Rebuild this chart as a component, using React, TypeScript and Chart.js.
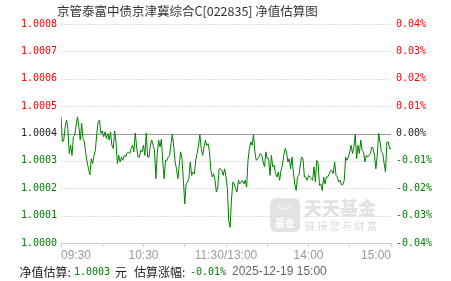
import React, { useEffect, useRef } from "react";
import { Chart, registerables } from "chart.js";

Chart.register(...registerables);

const TITLE = "京管泰富中债京津冀综合C[022835] 净值估算图";
const BASE_NAV = 1.0004;
const NAV_TICKS = [1.0, 1.0001, 1.0002, 1.0003, 1.0004, 1.0005, 1.0006, 1.0007, 1.0008];
const PCT_TICKS = ["-0.04%", "-0.03%", "-0.02%", "-0.01%", "0.00%", "0.01%", "0.02%", "0.03%", "0.04%"];
const TIME_TICK_POS = [0, 30, 60, 90, 120, 150, 180, 210, 240];
const TIME_TICK_LABELS = ["09:30", "", "10:30", "", "11:30/13:00", "", "14:00", "", "15:00"];

// 09:30 - 11:30 (one value per minute)
const MORNING_NAV = [
  1.000461, 1.000369, 1.000376, 1.000424, 1.000449, 1.000418, 1.000327, 1.000357, 1.00032, 1.000388,
  1.000394, 1.000431, 1.000461, 1.000424, 1.000376, 1.000437, 1.000382, 1.000369, 1.000327, 1.000296,
  1.000271, 1.000249, 1.000308, 1.00029, 1.00032, 1.000339, 1.0004, 1.000443, 1.000449, 1.0004,
  1.000409, 1.000388, 1.000406, 1.000382, 1.0004, 1.000376, 1.000406, 1.000357, 1.000345, 1.000409,
  1.000369, 1.00029, 1.00032, 1.000296, 1.000314, 1.000302, 1.00032, 1.000314, 1.000327, 1.000333,
  1.000327, 1.000345, 1.000357, 1.000333, 1.000402, 1.000351, 1.000314, 1.000314, 1.000339, 1.000333,
  1.000357, 1.00032, 1.000402, 1.000314, 1.000314, 1.000357, 1.000376, 1.000357, 1.000339, 1.000235,
  1.000327, 1.000376, 1.000351, 1.000379, 1.000296, 1.000235, 1.000302, 1.000302, 1.000314, 1.00032,
  1.000363, 1.000398, 1.000351, 1.000296, 1.000271, 1.000235, 1.000284, 1.000333, 1.000308, 1.000229,
  1.000143, 1.000216, 1.000223, 1.000235, 1.000296, 1.000247, 1.000259, 1.000253, 1.000302, 1.000327,
  1.000357, 1.000396, 1.000345, 1.00032, 1.000351, 1.000376, 1.000357, 1.000363, 1.000333, 1.000265,
  1.000241, 1.000253, 1.000229, 1.000186, 1.000204, 1.000271, 1.000271, 1.000265, 1.000247, 1.000271,
  1.000241,
];

// 13:01 - 15:00 (one value per minute)
const AFTERNOON_NAV = [
  1.000198, 1.000082, 1.000057, 1.000161, 1.000223, 1.000216, 1.000198, 1.000186, 1.000229, 1.000216,
  1.000223, 1.000229, 1.000216, 1.000229, 1.000204, 1.000302, 1.000345, 1.000369, 1.000357, 1.000396,
  1.000333, 1.000302, 1.000308, 1.000314, 1.000327, 1.00032, 1.000296, 1.000278, 1.000333, 1.000308,
  1.000308, 1.000247, 1.00032, 1.000278, 1.000284, 1.000253, 1.000241, 1.000259, 1.000229, 1.000265,
  1.000284, 1.00032, 1.000345, 1.000333, 1.000296, 1.000308, 1.000271, 1.000314, 1.000259, 1.000216,
  1.000192, 1.000241, 1.000247, 1.000284, 1.000314, 1.000308, 1.000241, 1.000241, 1.000229, 1.000247,
  1.000241, 1.000235, 1.000229, 1.000278, 1.000223, 1.000302, 1.00029, 1.00021, 1.000216, 1.000192,
  1.000241, 1.000216, 1.000241, 1.000241, 1.000253, 1.000265, 1.000265, 1.000253, 1.000296, 1.000247,
  1.000241, 1.000223, 1.000229, 1.000213, 1.000213, 1.000229, 1.000314, 1.000302, 1.000314, 1.000333,
  1.000357, 1.000327, 1.000351, 1.000396, 1.000308, 1.000357, 1.000327, 1.000376, 1.000339, 1.000333,
  1.000296, 1.00032, 1.000314, 1.00032, 1.000327, 1.000351, 1.000345, 1.00032, 1.000271, 1.00032,
  1.0004, 1.000369, 1.000333, 1.000327, 1.00029, 1.000259, 1.000369, 1.000369, 1.000345, 1.000345,
];

const EST_NAV_TEXT = "1.0003";
const EST_CHANGE_TEXT = "-0.01%";
const EST_TIME_TEXT = "2025-12-19 15:00";

const GREEN = "#008000";
const RED = "#ff0000";

function tickColor(v: number): string {
  if (v > BASE_NAV + 1e-9) return RED;
  if (v < BASE_NAV - 1e-9) return GREEN;
  return "#222";
}

const gridPlugin = {
  id: "navGrid",
  beforeDatasetsDraw(chart: any) {
    const ctx = chart.ctx;
    const y = chart.scales.y;
    const { left, right } = chart.chartArea;
    ctx.save();
    ctx.lineWidth = 1;
    NAV_TICKS.forEach((v) => {
      if (v === NAV_TICKS[0]) return;
      const py = Math.round(y.getPixelForValue(v)) + 0.5;
      if (Math.abs(v - BASE_NAV) < 1e-9) {
        ctx.setLineDash([]);
        ctx.strokeStyle = "#9a9a9a";
      } else {
        ctx.setLineDash([2, 1]);
        ctx.strokeStyle = "#e0e0e0";
      }
      ctx.beginPath();
      ctx.moveTo(left, py);
      ctx.lineTo(right, py);
      ctx.stroke();
    });
    ctx.restore();

    // watermark
    ctx.save();
    ctx.fillStyle = "#e3e3e3";
    ctx.beginPath();
    (ctx as any).roundRect(270, 198, 30, 34, 6);
    ctx.fill();
    ctx.strokeStyle = "#f2f2f2";
    ctx.lineWidth = 2;
    ctx.beginPath();
    ctx.arc(285, 201, 8, 0.15 * Math.PI, 0.85 * Math.PI);
    ctx.stroke();
    ctx.fillStyle = "#ffffff";
    ctx.font = 'bold 10px "Noto Sans CJK SC"';
    ctx.textAlign = "center";
    ctx.textBaseline = "middle";
    ctx.fillText("基金", 285, 223);
    ctx.textAlign = "left";
    ctx.textBaseline = "alphabetic";
    ctx.fillStyle = "#e2e2e2";
    ctx.font = '900 18px "Noto Sans CJK SC"';
    ctx.fillText("天天基金", 304, 215);
    ctx.fillStyle = "#dadada";
    ctx.font = '10px "Noto Sans CJK SC"';
    (ctx as any).letterSpacing = "2.4px";
    ctx.fillText("链接您与财富", 305, 230);
    ctx.restore();
  },
};

export default function App() {
  const canvasRef = useRef<HTMLCanvasElement | null>(null);

  useEffect(() => {
    const canvas = canvasRef.current;
    if (!canvas) return;
    const nav = [...MORNING_NAV, ...AFTERNOON_NAV];
    const points = nav.map((v, i) => ({ x: i, y: v }));

    const chart = new Chart(canvas, {
      type: "line",
      data: {
        datasets: [
          {
            data: points,
            borderColor: GREEN,
            borderWidth: 1,
            pointRadius: 0,
            tension: 0,
            fill: false,
            yAxisID: "y",
          },
        ],
      },
      options: {
        animation: false,
        responsive: false,
        maintainAspectRatio: false,
        events: [],
        layout: { padding: { top: 24, left: 0, right: 0, bottom: 0 } },
        plugins: {
          legend: { display: false },
          tooltip: { enabled: false },
          title: { display: false },
        },
        scales: {
          x: {
            type: "linear",
            min: 0,
            max: 240,
            afterBuildTicks: (s: any) => {
              s.ticks = TIME_TICK_POS.map((v) => ({ value: v }));
            },
            afterFit: (s: any) => {
              s.height = 38;
            },
            ticks: {
              callback: (_v: any, idx: number) => TIME_TICK_LABELS[idx],
              align: "inner",
              autoSkip: false,
              maxRotation: 0,
              color: "#9a9a9a",
              font: { family: '"Liberation Sans", Arial, sans-serif', size: 12 },
              padding: 1,
            },
            grid: {
              display: true,
              drawOnChartArea: false,
              drawTicks: true,
              tickLength: 4,
              color: "#c5d2df",
              tickColor: "#c5d2df",
            },
            border: { display: true, color: "#c5d2df" },
          },
          y: {
            position: "left",
            min: 1.0,
            max: 1.0008,
            afterBuildTicks: (s: any) => {
              s.ticks = NAV_TICKS.map((v) => ({ value: v }));
            },
            afterFit: (s: any) => {
              s.width = 61;
            },
            ticks: {
              callback: (v: any) => Number(v).toFixed(4),
              color: (c: any) => tickColor(c.tick.value),
              font: { family: '"DejaVu Sans Mono", monospace', size: 10 },
              padding: 4,
            },
            grid: { display: false, drawTicks: false },
            border: { display: false },
          },
          y2: {
            position: "right",
            min: 1.0,
            max: 1.0008,
            afterBuildTicks: (s: any) => {
              s.ticks = NAV_TICKS.map((v) => ({ value: v }));
            },
            afterFit: (s: any) => {
              s.width = 60;
            },
            ticks: {
              callback: (_v: any, idx: number) => PCT_TICKS[idx],
              color: (c: any) => tickColor(c.tick.value),
              font: { family: '"DejaVu Sans Mono", monospace', size: 10 },
              padding: 5,
            },
            grid: { display: false, drawTicks: false },
            border: { display: false },
          },
        },
      } as any,
      plugins: [gridPlugin],
    });
    return () => chart.destroy();
  }, []);

  const cjk = '"Noto Sans CJK SC", sans-serif';
  const mono = '"DejaVu Sans Mono", monospace';
  const span = (left: number, text: string, color: string, font: string, size: number) => (
    <span
      style={{
        position: "absolute",
        left,
        top: 264,
        lineHeight: "15px",
        fontSize: size,
        fontFamily: font,
        color,
        whiteSpace: "nowrap",
      }}
    >
      {text}
    </span>
  );

  return (
    <div
      style={{
        position: "fixed",
        left: 0,
        top: 0,
        width: 451,
        height: 281,
        background: "#fff",
        overflow: "hidden",
      }}
    >
      <canvas ref={canvasRef} width={451} height={281} style={{ position: "absolute", left: 0, top: 0, width: 451, height: 281 }} />
      <div
        style={{
          position: "absolute",
          left: 57,
          top: 3,
          fontSize: 12.5,
          lineHeight: "16px",
          fontFamily: cjk,
          color: "#333",
          whiteSpace: "nowrap",
        }}
      >
        {TITLE}
      </div>
      {span(19.5, "净值估算:", "#222", cjk, 12)}
      {span(74, EST_NAV_TEXT, GREEN, mono, 10)}
      {span(115, "元", "#222", cjk, 12)}
      {span(134, "估算涨幅:", "#222", cjk, 12)}
      {span(190, EST_CHANGE_TEXT, GREEN, mono, 10)}
      {span(232, EST_TIME_TEXT, "#666", '"Liberation Sans", Arial, sans-serif', 12)}
    </div>
  );
}
